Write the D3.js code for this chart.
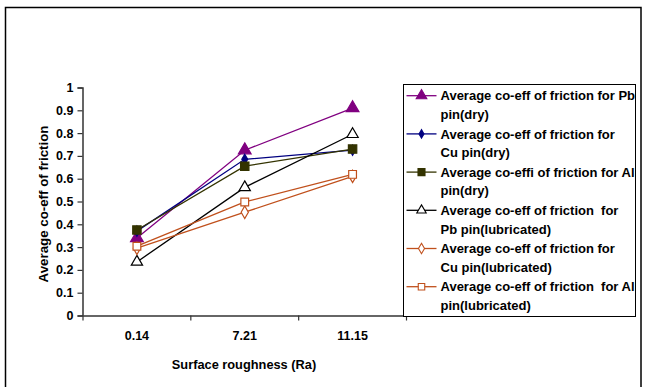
<!DOCTYPE html>
<html><head><meta charset="utf-8">
<script src="https://cdn.jsdelivr.net/npm/d3@7"></script>
<style>
html,body{margin:0;padding:0;background:#fff;}
text{font-family:"Liberation Sans",Arial,sans-serif;font-weight:bold;}
</style></head>
<body><svg id="c" width="645" height="387"></svg>
<script>
const categories = ["0.14", "7.21", "11.15"];
const yTicks = [0, 0.1, 0.2, 0.3, 0.4, 0.5, 0.6, 0.7, 0.8, 0.9, 1];
const pbDry = [0.34, 0.725, 0.91];
const cuDry = [0.37, 0.685, 0.725];
const alDry = [0.375, 0.655, 0.73];
const pbLub = [0.235, 0.562, 0.795];
const cuLub = [0.295, 0.453, 0.61];
const alLub = [0.304, 0.498, 0.619];
const seriesNames = [
  ["Average co-eff of friction for Pb", "pin(dry)"],
  ["Average co-eff of friction for", "Cu pin(dry)"],
  ["Average co-effi of friction for Al", "pin(dry)"],
  ["Average co-eff of friction  for", "Pb pin(lubricated)"],
  ["Average co-eff of friction for", "Cu pin(lubricated)"],
  ["Average co-eff of friction  for Al", "pin(lubricated)"]
];
const xTitle = "Surface roughness (Ra)";
const yTitle = "Average co-eff of friction";

const styles = [
  {color:"#800080", fill:"#800080", shape:d3.symbolTriangle, size:70},
  {color:"#000080", fill:"#000080", shape:d3.symbolDiamond, size:30},
  {color:"#333300", fill:"#333300", shape:d3.symbolSquare, size:70},
  {color:"#000000", fill:"#ffffff", shape:d3.symbolTriangle, size:55},
  {color:"#c0501c", fill:"#ffffff", shape:d3.symbolDiamond, size:45},
  {color:"#c0501c", fill:"#ffffff", shape:d3.symbolSquare, size:60}
];
const seriesData = [pbDry, cuDry, alDry, pbLub, cuLub, alLub];

const svg = d3.select("#c");
svg.append("rect").attr("x",5.5).attr("y",7.5).attr("width",635.5).attr("height",395)
  .attr("fill","#fff").attr("stroke","#000").attr("stroke-width",1.5);

const x = d3.scaleBand().domain(categories).range([83, 406.5]).padding(0);
const y = d3.scaleLinear().domain([0,1]).range([315.5, 87.5]);
const axisColor = "#333";

// Y axis
const ya = svg.append("g").attr("transform","translate(82.5,0)")
  .call(d3.axisLeft(y).tickValues(yTicks).tickSize(5).tickPadding(4).tickFormat(d3.format("~g")));
ya.select(".domain").attr("stroke",axisColor).attr("stroke-width",1.5);
ya.selectAll(".tick line").attr("stroke",axisColor).attr("stroke-width",1.2);
ya.selectAll(".tick text").attr("font-size","12.5px").attr("fill","#000")
  .attr("font-family","Liberation Sans, Arial, sans-serif").attr("font-weight","bold");

// X axis
const xa = svg.append("g").attr("transform","translate(0,315.5)")
  .call(d3.axisBottom(x).tickSize(0).tickPadding(16));
xa.select(".domain").attr("stroke",axisColor).attr("stroke-width",1.5);
xa.selectAll(".tick text").attr("font-size","12.5px").attr("fill","#000")
  .attr("font-family","Liberation Sans, Arial, sans-serif").attr("font-weight","bold");
const bounds = categories.map(c => x(c)).concat([x.range()[1]]);
xa.selectAll(".bt").data(bounds).enter().append("line").attr("class","bt")
  .attr("x1",d=>d).attr("x2",d=>d).attr("y1",0).attr("y2",5)
  .attr("stroke",axisColor).attr("stroke-width",1.2);

// titles
svg.append("text").attr("x",244).attr("y",368.5).attr("text-anchor","middle")
  .attr("font-size","12.8px").text(xTitle);
svg.append("text").attr("transform","translate(47.5,204) rotate(-90)").attr("text-anchor","middle")
  .attr("font-size","13.3px").text(yTitle);

// series
const line = d3.line().x((d,i)=>x(categories[i])+x.bandwidth()/2).y(d=>y(d));
seriesData.forEach((vals,k)=>{
  const s = styles[k];
  svg.append("path").datum(vals).attr("d",line).attr("fill","none")
    .attr("stroke",s.color).attr("stroke-width",1.3);
});
seriesData.forEach((vals,k)=>{
  const s = styles[k];
  svg.selectAll(".m"+k).data(vals).enter().append("path")
    .attr("transform",(d,i)=>`translate(${x(categories[i])+x.bandwidth()/2},${y(d)})`)
    .attr("d",d3.symbol().type(s.shape).size(s.size))
    .attr("fill",s.fill).attr("stroke",s.color).attr("stroke-width",1.2);
});

// legend
const lg = svg.append("g");
lg.append("rect").attr("x",403.5).attr("y",84.5).attr("width",232).attr("height",232)
  .attr("fill","#fff").attr("stroke","#000").attr("stroke-width",1);
seriesNames.forEach((lines,k)=>{
  const s = styles[k];
  const cy = 95.7 + k*38.2;
  lg.append("line").attr("x1",406.5).attr("x2",436.5).attr("y1",cy).attr("y2",cy)
    .attr("stroke",s.color).attr("stroke-width",1.3);
  lg.append("path").attr("transform",`translate(421.5,${cy})`)
    .attr("d",d3.symbol().type(s.shape).size(s.size*0.7))
    .attr("fill",s.fill).attr("stroke",s.color).attr("stroke-width",1.1);
  lines.forEach((t,j)=>{
    lg.append("text").attr("x",440.5).attr("y",cy+4.6+j*18.7)
      .attr("font-size","13px").attr("xml:space","preserve").style("white-space","pre").text(t);
  });
});
</script></body></html>
